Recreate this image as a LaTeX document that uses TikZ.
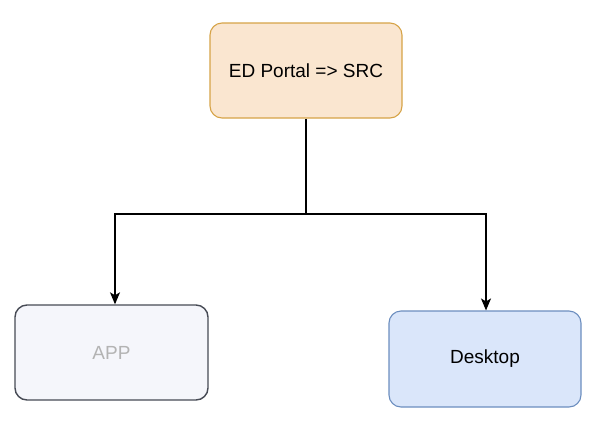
\documentclass[tikz,border=0pt]{standalone}
\usepackage{fontspec}
\setmainfont{Liberation Sans}
\usetikzlibrary{arrows.meta}
\definecolor{topfill}{HTML}{FAE6D0}
\definecolor{topdraw}{HTML}{D6A347}
\definecolor{appfill}{HTML}{F5F6FB}
\definecolor{appdraw}{HTML}{474B55}
\definecolor{apptext}{HTML}{B3B3B3}
\definecolor{deskfill}{HTML}{DAE6FA}
\definecolor{deskdraw}{HTML}{6C8EBF}
\tikzset{
  box/.style={rounded corners=12pt, minimum width=192pt, minimum height=95pt, line width=1.1pt, font=\fontsize{19}{22}\selectfont, inner sep=0pt},
  conn/.style={line width=1.3pt, -{Stealth[length=12pt,width=10pt,inset=3pt]}}
}
\begin{document}
\begin{tikzpicture}[x=1pt,y=-1pt]
\useasboundingbox (0,0) rectangle (598,440);
\node[box, fill=topfill, draw=topdraw] (src) at (306,70.5) {ED Portal => SRC};
\node[box, fill=appfill, draw=appdraw, text=apptext, minimum width=193pt, line width=1.4pt] (app) at (111.5,352.5) {APP};
\node[box, fill=deskfill, draw=deskdraw, minimum height=96pt] (desk) at (485,359) {Desktop};
\coordinate (mid) at (306,214);
\draw[conn] (src.south) -- (mid) -| ([xshift=3.5pt]app.north);
\draw[conn] (mid) -| ([xshift=1pt]desk.north);
\end{tikzpicture}
\end{document}
